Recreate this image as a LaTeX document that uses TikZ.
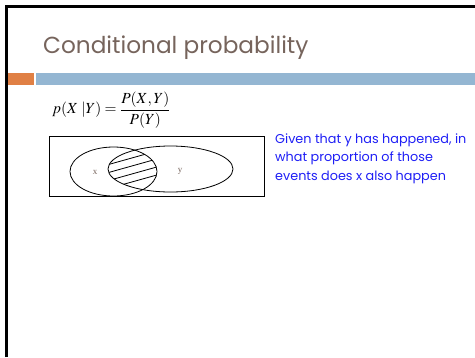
\documentclass[tikz,border=0pt]{standalone}
\usepackage{mathptmx}
\usepackage{fontspec}
\setmainfont{Liberation Serif}
\newfontfamily\gothic{Poppins}
\usetikzlibrary{positioning}
\definecolor{titlegray}{RGB}{118,100,92}
\definecolor{barorange}{RGB}{224,128,69}
\definecolor{barblue}{RGB}{148,182,210}
\definecolor{textblue}{RGB}{30,30,245}

\begin{document}
\begin{tikzpicture}[x=1pt, y=-1pt,
    setlabel/.style={inner sep=0pt, text=titlegray, font=\fontsize{9}{10}\selectfont},
    venn/.style={draw, line width=0.8pt}]
    \useasboundingbox (0,0) rectangle (475,357);
    % slide frame and bars
    \draw[line width=2.2pt] (6.5,357) -- (6.5,6.5) -- (475,6.5);
    \fill[barorange] (8,73.3) rectangle (34,85);
    \fill[barblue] (36,73.3) rectangle (475,85);
    \node[anchor=base west, inner sep=0pt, text=titlegray,
        font=\gothic\fontsize{23.2}{28}\selectfont] (title) at (43,53.3) {Conditional probability};
    % formula
    \node[anchor=west, inner sep=0pt, font=\fontsize{15.4}{18}\selectfont] (formula) at (52,110)
        {$\displaystyle p(X\;|Y) = \frac{P(X,Y)}{P(Y)}$};
    % venn diagram
    \draw[line width=0.8pt] (49,136.5) rectangle (264,196.5);
    \draw[venn] (113.5,171.5) ellipse [x radius=43.5, y radius=24.5];
    \draw[venn] (170.5,169) ellipse [x radius=62.5, y radius=23];
    \begin{scope}
        \clip (113.5,171.5) ellipse [x radius=43.5, y radius=24.5];
        \clip (170.5,169) ellipse [x radius=62.5, y radius=23];
        \foreach \c in {150.5,158.5,...,182.5}
            \draw[line width=0.8pt] (100,\c+8.4) -- (170,\c-11.2);
    \end{scope}
    \node[setlabel] (xlbl) at (95,172.5) {x};
    \node[setlabel] (ylbl) at (180,171) {y};
    % explanation
    \node[anchor=base west, inner sep=0pt, align=left, text=textblue,
        font=\gothic\fontsize{12.8}{18.5}\selectfont] (note) at (275,180.3)
        {Given that y has happened, in\\what proportion of those\\events does x also happen};
\end{tikzpicture}
\end{document}
